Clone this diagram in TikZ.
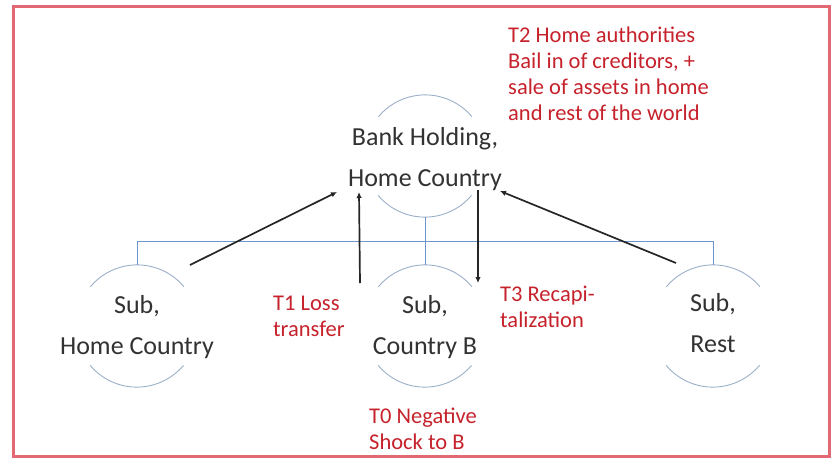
\documentclass[tikz,border=0pt]{standalone}
\usepackage{fontspec}
\setmainfont{Carlito}
\usetikzlibrary{arrows.meta}
\definecolor{framered}{RGB}{226,104,116}
\definecolor{txtred}{RGB}{198,34,44}
\definecolor{txtdark}{RGB}{50,50,50}
\definecolor{linkblue}{RGB}{110,150,200}
\definecolor{arcgray}{RGB}{155,175,200}
\tikzset{
  circ/.style={circle,minimum size=122pt,inner sep=0pt},
  arcs/.style={draw=arcgray,line width=0.9pt},
  blacktext/.style={align=center,text=txtdark,inner sep=0pt,font=\fontsize{26}{41}\selectfont},
  redtext/.style={align=left,text=txtred,inner sep=0pt,anchor=west,font=\fontsize{22.5}{26}\selectfont},
  link/.style={draw=linkblue,line width=0.9pt},
  flow/.style={draw=black!85,line width=1.7pt,-{Latex[length=6pt,width=5.5pt]}},
  frame/.style={draw=framered,line width=3pt}
}
\begin{document}
\begin{tikzpicture}[x=1pt,y=-1pt]
\useasboundingbox (0,0) rectangle (833,459);
\draw[frame] (13,6) rectangle (829,456);

% circles (as invisible nodes), arcs drawn below
\node[circ] (top) at (425,156) {};
\node[circ] (left) at (137,326) {};
\node[circ] (mid) at (425,326) {};
\node[circ] (right) at (713,326) {};

\foreach \n in {top,left,mid,right}{
  \draw[arcs] (\n.40) arc[start angle=40,end angle=140,radius=61pt];
  \draw[arcs] (\n.220) arc[start angle=220,end angle=320,radius=61pt];
}

% tree connectors
\draw[link] (left.north) -- ++(0,-23) -| (right.north);
\draw[link] (top.south) -- (mid.north);

% texts
\node[blacktext] (toptxt) at ([yshift=-3pt]top.center) {Bank Holding,\\Home Country};
\node[blacktext] (lefttxt) at ([yshift=-1pt]left.center) {Sub,\\Home Country};
\node[blacktext] (midtxt) at ([yshift=-1pt]mid.center) {Sub,\\Country B};
\node[blacktext] (righttxt) at ([yshift=3pt]right.center) {Sub,\\Rest};

\node[redtext] (t2) at (508,74) {T2 Home authorities\\Bail in of creditors, +\\sale of assets in home\\and rest of the world};
\node[redtext] (t1) at (273,316) {T1 Loss\\transfer};
\node[redtext] (t3) at (500,307) {T3 Recapi-\\talization};
\node[redtext] (t0) at (369,429) {T0 Negative\\Shock to B};

% arrows
\coordinate (a1s) at (190,265);
\coordinate (a1e) at (337,192);
\coordinate (a2s) at (360,283);
\coordinate (a2e) at (359,192);
\coordinate (a3s) at (478,190);
\coordinate (a3e) at (478,283);
\coordinate (a4s) at (676,263);
\coordinate (a4e) at (500,191);
\draw[flow] (a1s) -- (a1e);
\draw[flow] (a2s) -- (a2e);
\draw[flow] (a3s) -- (a3e);
\draw[flow] (a4s) -- (a4e);
\end{tikzpicture}
\end{document}
